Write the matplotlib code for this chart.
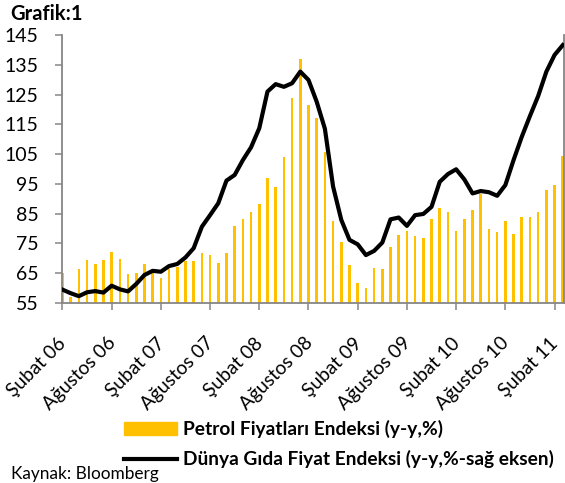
import numpy as np
import matplotlib.pyplot as plt
from matplotlib.patches import Patch
from matplotlib.lines import Line2D
from matplotlib.transforms import ScaledTranslation

plt.rcParams['font.family'] = ['Lato', 'DejaVu Sans']

# monthly data, Subat 2006 .. Mart 2011
petrol = [65.0, 57.0, 66.3, 69.4, 68.1, 69.5, 72.0, 69.8, 64.7, 65.0,
          68.2, 65.2, 63.3, 66.3, 67.2, 69.2, 69.2, 71.7, 71.0, 68.3,
          71.8, 81.0, 83.1, 85.5, 88.2, 97.1, 94.0, 104.1, 123.7, 136.8,
          121.4, 117.0, 105.8, 82.5, 75.6, 67.9, 61.6, 60.0, 66.6, 66.3,
          73.8, 77.8, 79.2, 77.5, 76.8, 83.1, 86.9, 85.5, 79.2, 83.1,
          86.1, 91.5, 80.0, 78.9, 82.5, 78.3, 83.8, 83.8, 85.6, 92.9,
          94.5, 104.4]
gida = [59.5, 58.3, 57.3, 58.6, 59.0, 58.5, 60.8, 59.6, 58.9, 61.4,
        64.4, 65.8, 65.5, 67.4, 68.1, 70.3, 73.4, 80.6, 84.5, 88.5,
        96.1, 98.0, 103.0, 107.3, 113.7, 126.0, 128.5, 127.6, 128.8, 132.7,
        129.9, 122.6, 113.5, 94.1, 82.9, 76.2, 74.7, 71.1, 72.5, 75.3,
        83.1, 83.7, 80.9, 84.5, 84.9, 87.3, 95.7, 98.3, 99.9, 96.5,
        91.8, 92.6, 92.2, 91.0, 94.6, 103.0, 110.8, 117.8, 124.5, 132.7,
        138.3, 141.6]
tick_labels = ["Şubat 06", "Ağustos 06", "Şubat 07", "Ağustos 07", "Şubat 08",
               "Ağustos 08", "Şubat 09", "Ağustos 09", "Şubat 10", "Ağustos 10",
               "Şubat 11"]
y_ticks = [55, 65, 75, 85, 95, 105, 115, 125, 135, 145]

gray = '#868686'
x = np.arange(len(petrol))

fig = plt.figure(figsize=(5.65, 4.83), dpi=100)
ax = fig.add_axes([62/565, 1-303/483, 502/565, 268/483])
bars = ax.bar(x, petrol, width=0.32, color='#FFC000', zorder=2)
ax.set_ylim(55, 145)
ax.set_xlim(-0.05, len(petrol)-1+0.15)
ax.set_yticks(y_ticks)
ax.set_xticks(x[::6])
ax.set_xticklabels(tick_labels, rotation=45, ha='right', va='top',
                   rotation_mode='anchor')
ax.tick_params(axis='y', colors=gray, labelcolor='black', labelsize=14,
               length=5, width=1.1, pad=12)
ax.tick_params(axis='x', colors=gray, labelcolor='black', labelsize=13.8,
               length=5, width=1.1, pad=14)
# nudge the slanted labels a little along their own direction
shift = ScaledTranslation(-5/100, -5/100, fig.dpi_scale_trans)
for lab in ax.get_xticklabels():
    lab.set_transform(lab.get_transform() + shift)
for s in ['top', 'right']:
    ax.spines[s].set_visible(False)
for s in ['left', 'bottom']:
    ax.spines[s].set_color(gray)
    ax.spines[s].set_linewidth(1.3)

# food index on right axis (its labels are cut off in the source)
ax2 = ax.twinx()
line, = ax2.plot(x, gida, color='black', lw=3.0, zorder=3)
ax2.set_ylim(55, 145)
ax2.set_yticks([])
for s in ['top', 'left', 'bottom']:
    ax2.spines[s].set_visible(False)
ax2.spines['right'].set_color(gray)
ax2.spines['right'].set_linewidth(1.3)

fig.text(10/565, 1-14/483, "Grafik:1", fontsize=14.5, fontweight='bold',
         va='center', ha='left')
fig.text(11/565, 1-474/483, "Kaynak: Bloomberg", fontsize=12.4,
         va='center', ha='left')

handles = [Patch(color='#FFC000'), Line2D([], [], color='black', lw=3.0)]
labels = ["Petrol Fiyatları Endeksi (y-y,%)",
          "Dünya Gıda Fiyat Endeksi (y-y,%-sağ eksen)"]
fig.legend(handles, labels, loc='upper left', bbox_to_anchor=(124/565, 1-420/483),
           frameon=False, prop={'weight': 'bold', 'size': 13.8},
           handlelength=2.76, handleheight=0.63, handletextpad=0.3,
           labelspacing=0.62, borderaxespad=0, borderpad=0)

fig.savefig("out.png", dpi=100)
